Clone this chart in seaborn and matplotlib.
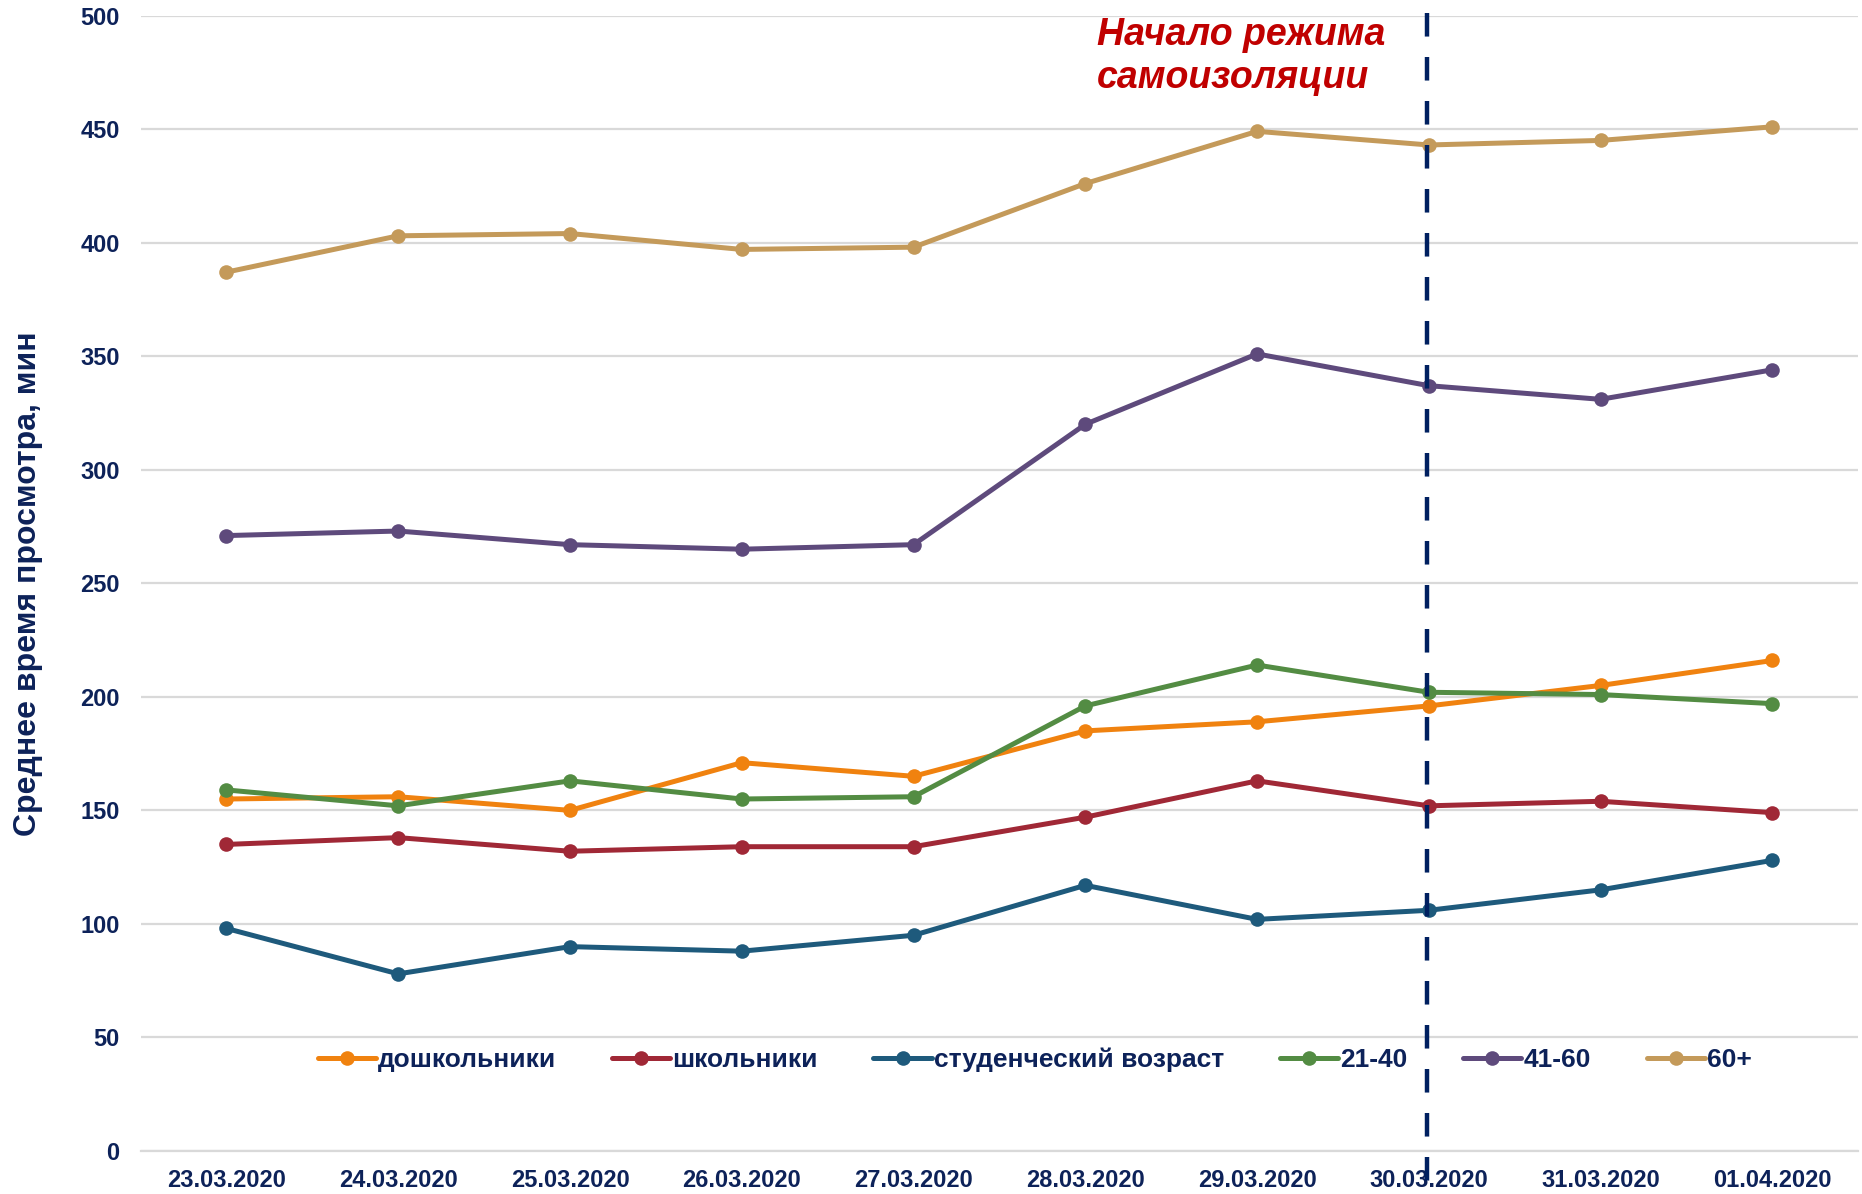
import matplotlib
matplotlib.use("Agg")
import matplotlib.pyplot as plt
import seaborn as sns
import pandas as pd
import numpy as np

dates = ["23.03.2020", "24.03.2020", "25.03.2020", "26.03.2020", "27.03.2020",
         "28.03.2020", "29.03.2020", "30.03.2020", "31.03.2020", "01.04.2020"]
groups = ["дошкольники", "школьники", "студенческий возраст", "21-40", "41-60", "60+"]

preschool = [155, 156, 150, 171, 165, 185, 189, 196, 205, 216]
school = [135, 138, 132, 134, 134, 147, 163, 152, 154, 149]
student = [98, 78, 90, 88, 95, 117, 102, 106, 115, 128]
age_21_40 = [159, 152, 163, 155, 156, 196, 214, 202, 201, 197]
age_41_60 = [271, 273, 267, 265, 267, 320, 351, 337, 331, 344]
age_60p = [387, 403, 404, 397, 398, 426, 449, 443, 445, 451]

colors = ["#F0820F", "#A02836", "#1E5A7C", "#538C43", "#5E4A7C", "#C49A5A"]
text_color = "#0D2259"
event_date = "30.03.2020"
annotation = "Начало режима\nсамоизоляции"
ylabel = "Среднее время просмотра, мин"

series = [preschool, school, student, age_21_40, age_41_60, age_60p]
rows = []
for g, vals in zip(groups, series):
    for i, v in enumerate(vals):
        rows.append({"idx": i, "value": v, "group": g})
df = pd.DataFrame(rows)

sns.set_theme(style="white")
plt.rcParams["font.family"] = ["Liberation Sans", "DejaVu Sans"]
plt.rcParams["font.weight"] = "bold"

fig = plt.figure(figsize=(18.62, 11.94), dpi=100)
ax = fig.add_axes([0.0755, 0.036, 0.9225, 0.951])

sns.lineplot(data=df, x="idx", y="value", hue="group", hue_order=groups,
             palette=colors, marker="o", markersize=10.5, markeredgewidth=0,
             linewidth=3.6, sort=False, ax=ax, legend=True)

ax.set_xlim(-0.5, len(dates) - 0.5)
ax.set_ylim(0, 500)
ax.set_yticks(np.arange(0, 501, 50))
ax.yaxis.grid(True, color="#D9D9D9", linewidth=1.6)
ax.set_axisbelow(True)
for s in ["left", "right", "top"]:
    ax.spines[s].set_visible(False)
ax.spines["bottom"].set_color("#D9D9D9")
ax.spines["bottom"].set_linewidth(1.6)

ax.set_xticks(range(len(dates)))
ax.set_xticklabels(dates)
ax.set_xticks(np.arange(-0.5, len(dates), 1), minor=True)
ax.tick_params(axis="x", which="major", length=0, pad=13, labelsize=17, labelcolor=text_color)
ax.tick_params(axis="x", which="minor", length=7, width=1.6, color="#D9D9D9", direction="out")
ax.tick_params(axis="y", length=0, pad=15, labelsize=17, labelcolor=text_color)
for t in ax.get_yticklabels() + ax.get_xticklabels():
    t.set_fontweight("bold")

ax.set_xlabel("")
ax.set_ylabel(ylabel, fontsize=23, fontweight="bold", color=text_color)
ax.yaxis.set_label_coords(-0.0566, 0.5)

ev = dates.index(event_date)
ax.plot([ev - 0.01, ev - 0.01], [501, -33], color="#002060", linewidth=3.2,
        dashes=(5.3, 4.6), clip_on=False, zorder=5)

ax.text(5.07, 499.5, annotation, color="#C00000", fontsize=27, fontweight="bold",
        fontstyle="italic", ha="left", va="top", linespacing=1.25)

leg = ax.legend(loc="center left", bbox_to_anchor=(0.103, 0.08), ncol=6, frameon=False,
                fontsize=19, handlelength=2.2, handletextpad=0.1, columnspacing=2.1,
                borderaxespad=0, borderpad=0)
for t in leg.get_texts():
    t.set_color(text_color)
    t.set_fontweight("bold")

fig.savefig("out.png", dpi=100)
